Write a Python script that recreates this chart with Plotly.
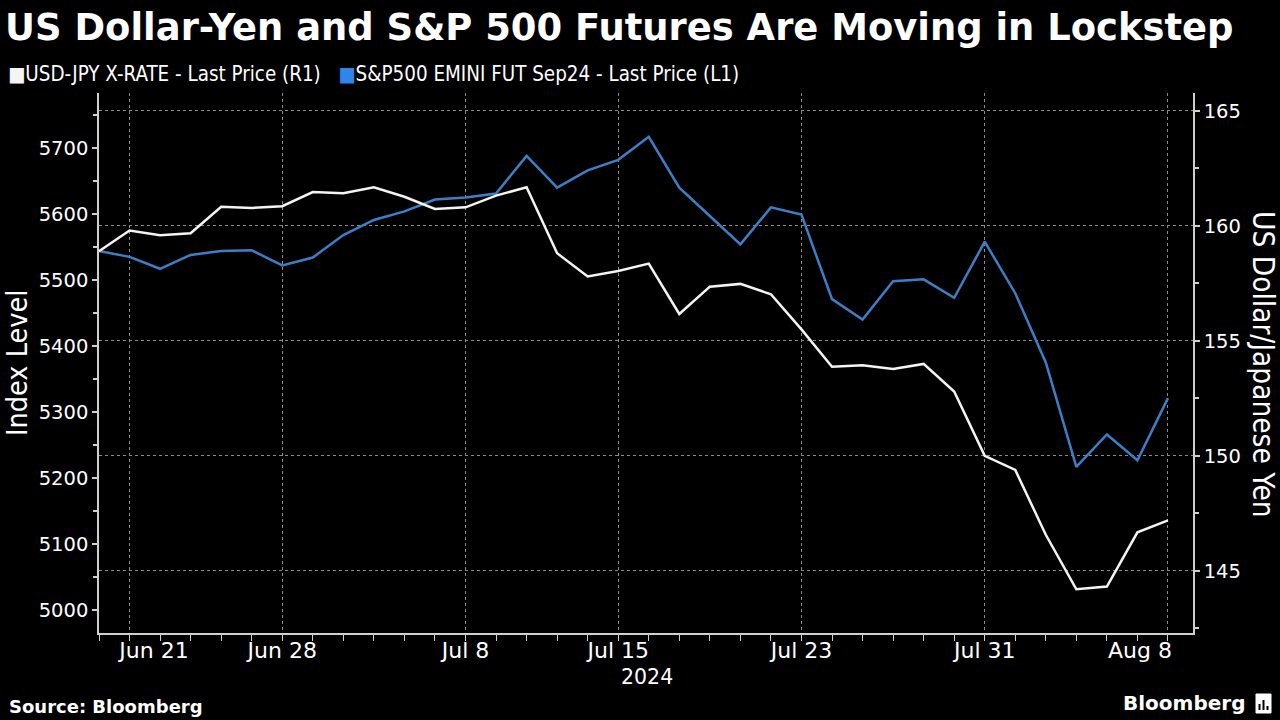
import plotly.graph_objects as go
import pandas as pd

# ---- data ----
dates = pd.bdate_range("2024-06-20", "2024-08-08")
usdjpy = [158.9, 159.8, 159.6, 159.68, 160.83, 160.78, 160.86, 161.47, 161.42, 161.68,
          161.27, 160.74, 160.81, 161.32, 161.68, 158.81, 157.8, 158.04, 158.36, 156.17,
          157.36, 157.48, 157.03, 155.5, 153.88, 153.94, 153.78, 154.0, 152.8, 150.0,
          149.39, 146.57, 144.2, 144.32, 146.68, 147.2]
spx_fut = [5544, 5535, 5517, 5538, 5544, 5545, 5522, 5534, 5568, 5591,
           5604, 5622, 5625, 5631, 5688, 5640, 5666, 5682, 5717, 5640,
           5597, 5554, 5610, 5599, 5471, 5440, 5498, 5501, 5473, 5558,
           5480, 5375, 5217, 5266, 5227, 5321]
tick_dates = ["2024-06-21", "2024-06-28", "2024-07-08", "2024-07-15",
              "2024-07-23", "2024-07-31", "2024-08-08"]
tick_labels = ["Jun 21", "Jun 28", "Jul 8", "Jul 15", "Jul 23", "Jul 31", "Aug 8"]
left_ticks = [5000, 5100, 5200, 5300, 5400, 5500, 5600, 5700]
right_ticks = [145, 150, 155, 160, 165]

title = "US Dollar-Yen and S&P 500 Futures Are Moving in Lockstep"
name_jpy = "USD-JPY X-RATE - Last Price (R1)"
name_spx = "S&P500 EMINI FUT Sep24 - Last Price (L1)"

WHITE = "#f4f4f4"
BLUE = "#3b7fc9"
GRID = "#8a8a8a"
AXIS = "#cfcfcf"
COND = "DejaVu Sans Condensed, Liberation Sans Narrow, DejaVu Sans, sans-serif"
REG = "DejaVu Sans, sans-serif"

# edge labels are nudged inward (as in the original) with non-breaking padding
NB = "\u00a0"
shown_labels = list(tick_labels)
shown_labels[0] = NB * 7 + shown_labels[0]
shown_labels[-1] = shown_labels[-1] + NB * 8

fig = go.Figure()
fig.add_trace(go.Scatter(x=dates, y=spx_fut, name=name_spx, mode="lines",
                         line=dict(color=BLUE, width=2.5), yaxis="y", showlegend=False))
fig.add_trace(go.Scatter(x=dates, y=usdjpy, name=name_jpy, mode="lines",
                         line=dict(color=WHITE, width=2.5), yaxis="y2", showlegend=False))

fig.update_layout(
    width=1280, height=720,
    paper_bgcolor="black", plot_bgcolor="black",
    margin=dict(l=99, r=87, t=93, b=87),
    font=dict(family=COND, color="white", size=21),
    title=dict(text="<b>" + title + "</b>", x=0.004, xref="container", xanchor="left",
               y=1 - 27 / 720, yref="container", yanchor="middle",
               font=dict(family=REG, size=36.9, color="white")),
    xaxis=dict(
        type="date",
        range=["2024-06-20", "2024-08-08 19:40"],
        rangebreaks=[dict(bounds=["sat", "mon"])],
        tickmode="array", tickvals=tick_dates, ticktext=shown_labels,
        ticks="outside", ticklen=6, tickcolor=AXIS, tickwidth=1,
        ticklabelstandoff=-9,
        showline=True, linecolor=AXIS, linewidth=1.5,
        showgrid=True, gridcolor=GRID, griddash="dot", gridwidth=1,
        tickfont=dict(family=REG, size=22, color="white"),
        minor=dict(tickmode="array", tickvals=list(dates), ticks="outside",
                   ticklen=6, tickcolor=AXIS, showgrid=False),
        zeroline=False,
    ),
    yaxis=dict(
        range=[4965.2, 5783.3],
        tickmode="array", tickvals=left_ticks,
        ticks="outside", ticklen=5, tickcolor=AXIS, tickwidth=1.5,
        minor=dict(dtick=50, tick0=5000, ticks="outside", ticklen=4, tickcolor=AXIS, showgrid=False),
        showline=True, linecolor=AXIS, linewidth=1.5,
        showgrid=False, zeroline=False,
        tickfont=dict(family=REG, size=19.5, color="white"),
    ),
    yaxis2=dict(
        range=[142.3, 165.78], overlaying="y", side="right",
        tickmode="array", tickvals=right_ticks,
        ticks="outside", ticklen=5, tickcolor=AXIS, tickwidth=1.5,
        minor=dict(dtick=2.5, tick0=145, ticks="outside", ticklen=4, tickcolor=AXIS, showgrid=False),
        showline=True, linecolor=AXIS, linewidth=1.5,
        showgrid=True, gridcolor=GRID, griddash="dot", gridwidth=1, zeroline=False,
        tickfont=dict(family=REG, size=19.5, color="white"),
    ),
)

def px_x(p):
    return (p - 99) / 1094

def px_y(p):
    return (633 - p) / 540

legend_text = (f"<span style='color:{WHITE}'>■</span>{name_jpy}"
               f"&nbsp;&nbsp;&nbsp;<span style='color:#2f86e8'>■</span>{name_spx}")
anns = [
    dict(text=legend_text, x=px_x(6), y=px_y(74), xanchor="left", yanchor="middle",
         font=dict(family=COND, size=20.4, color="white")),
    dict(text="Index Level", x=px_x(17), y=px_y(363), textangle=-90,
         xanchor="center", yanchor="middle", font=dict(family=COND, size=28.5, color="white")),
    dict(text="US Dollar/Japanese Yen", x=px_x(1263), y=px_y(365), textangle=90,
         xanchor="center", yanchor="middle", font=dict(family=COND, size=29.5, color="white")),
    dict(text="2024", x=px_x(647), y=px_y(677), xanchor="center", yanchor="middle",
         font=dict(family=REG, size=20.5, color="white")),
    dict(text="<b>Source: Bloomberg</b>", x=px_x(7), y=px_y(706), xanchor="left",
         yanchor="middle", font=dict(family=REG, size=18, color="white")),
    dict(text="<b>Bloomberg</b>", x=px_x(1247), y=px_y(703), xanchor="right",
         yanchor="middle", font=dict(family=REG, size=20, color="white")),
]
for a in anns:
    a.update(xref="paper", yref="paper", showarrow=False)
    fig.add_annotation(**a)

# small Bloomberg logo glyph next to the wordmark
fig.add_shape(type="rect", xref="paper", yref="paper",
              x0=px_x(1256), x1=px_x(1271), y0=px_y(713), y1=px_y(694),
              fillcolor="white", line=dict(color="white", width=1))
for bx, btop in [(1259.5, 704), (1263.5, 700), (1267.5, 706)]:
    fig.add_shape(type="rect", xref="paper", yref="paper",
                  x0=px_x(bx - 1), x1=px_x(bx + 1), y0=px_y(710), y1=px_y(btop),
                  fillcolor="black", line=dict(width=0))

fig.write_html("out.html", config={"displayModeBar": False},
               post_script="document.body.style.margin='0px';")
